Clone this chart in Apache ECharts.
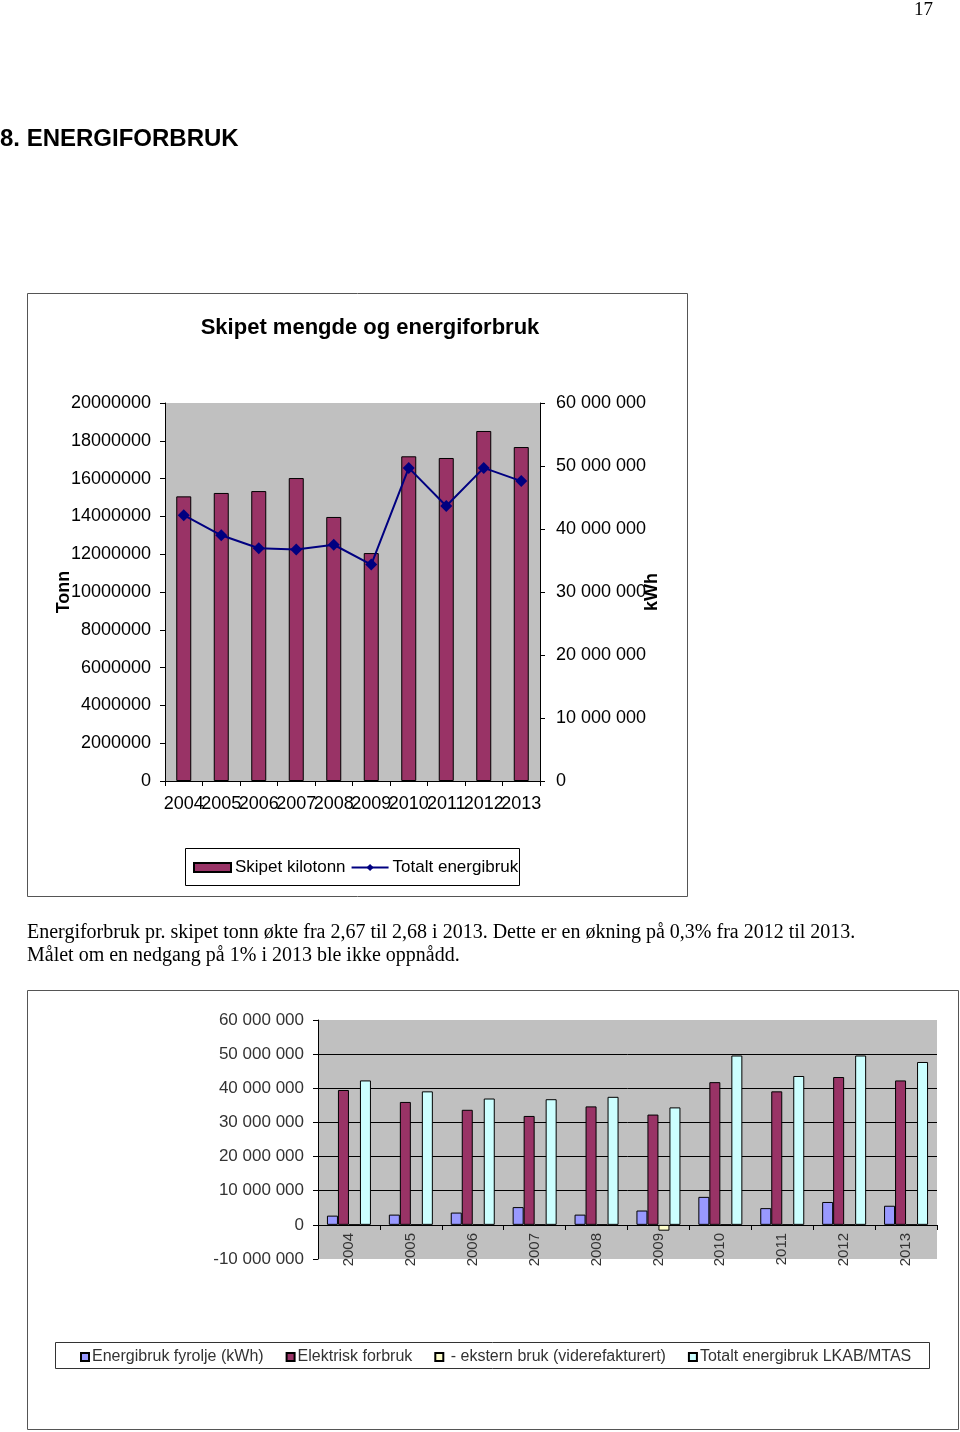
<!DOCTYPE html>
<html>
<head>
<meta charset="utf-8">
<script src="https://cdn.jsdelivr.net/npm/echarts@6/dist/echarts.min.js"></script>
<style>
  html, body { margin:0; padding:0; background:#fff; }
  #page { position:relative; width:960px; height:1432px; overflow:hidden; }
  #chart { position:absolute; left:0; top:0; width:960px; height:1432px; }
  .t { position:absolute; white-space:nowrap; color:#000; }
  #pnum { left:914px; top:-2px; font-family:"Liberation Serif", serif; font-size:19px; }
  #head { left:0; top:124px; font-family:"Liberation Sans", Arial, sans-serif; font-weight:bold; font-size:24px; }
  #para { left:27px; top:920px; font-family:"Liberation Serif", serif; font-size:20px; line-height:23px; }
</style>
</head>
<body>
<div id="page">
  <div id="chart"></div>
  <div class="t" id="pnum">17</div>
  <div class="t" id="head">8. ENERGIFORBRUK</div>
  <div class="t" id="para">Energiforbruk pr. skipet tonn økte fra 2,67 til 2,68 i 2013. Dette er en økning på 0,3% fra 2012 til 2013.<br>Målet om en nedgang på 1% i 2013 ble ikke oppnådd.</div>
</div>
<script>
const years = ['2004','2005','2006','2007','2008','2009','2010','2011','2012','2013'];
// Top chart
const skipetTonn = [15060000, 15240000, 15340000, 16030000, 13970000, 12060000, 17180000, 17090000, 18520000, 17670000];
const totaltEnergi = [42200000, 39000000, 36950000, 36750000, 37500000, 34350000, 49700000, 43650000, 49700000, 47600000];
// Bottom chart
const fyrolje = [2700000, 3000000, 3600000, 5200000, 3000000, 4200000, 8200000, 4900000, 6700000, 5600000];
const elektrisk = [39500000, 36000000, 33700000, 31900000, 34700000, 32300000, 41800000, 39100000, 43300000, 42300000];
const ekstern = [0, 0, 0, 0, 0, -1700000, 0, 0, 0, 0];
const totaltLKAB = [42300000, 39100000, 37000000, 36800000, 37500000, 34400000, 49600000, 43600000, 49600000, 47700000];

const FONT = '"Liberation Sans", Arial, sans-serif';
const spaced = v => String(v).replace(/\B(?=(\d{3})+(?!\d))/g, ' ');
const plain = v => String(v);

const chart = echarts.init(document.getElementById('chart'), null, {renderer:'canvas'});
const axisBlack = {show:true, lineStyle:{color:'#000', width:1}};

chart.setOption({
  animation:false,
  textStyle:{fontFamily:FONT},
  graphic:[
    {type:'rect', shape:{x:27.5, y:293.5, width:660, height:603}, style:{fill:'none', stroke:'#555', lineWidth:1}, z:-1},
    {type:'rect', shape:{x:185.5, y:848.5, width:334, height:37}, style:{fill:'none', stroke:'#000', lineWidth:1}, z:-1},
    {type:'rect', shape:{x:27.5, y:990.5, width:931, height:439}, style:{fill:'none', stroke:'#555', lineWidth:1}, z:-1},
    {type:'rect', shape:{x:55.5, y:1342.5, width:874, height:26}, style:{fill:'none', stroke:'#333', lineWidth:1}, z:-1},
    {type:'text', x:370, y:328, style:{text:'Skipet mengde og energiforbruk', font:'bold 22px ' + FONT, fill:'#000', textAlign:'center', textVerticalAlign:'middle'}}
  ],
  legend:[
    {
      left:193, top:859, padding:0, itemWidth:37, itemHeight:9, itemGap:5,
      textStyle:{fontSize:17, color:'#000', fontFamily:FONT, padding:[0,0,0,-1]},
      data:[{name:'Skipet kilotonn', icon:'rect'}, {name:'Totalt energibruk'}]
    },
    {
      left:80, top:1349, padding:0, itemWidth:8, itemHeight:8, itemGap:22,
      textStyle:{fontSize:16, color:'#333', fontFamily:FONT, padding:[0,0,0,-2]},
      data:[
        {name:'Energibruk fyrolje (kWh)', icon:'rect'},
        {name:'Elektrisk forbruk', icon:'rect'},
        {name:' - ekstern bruk (viderefakturert)', icon:'rect'},
        {name:'Totalt energibruk LKAB/MTAS', icon:'rect'}
      ]
    }
  ],
  grid:[
    {left:165, top:403, width:375, height:378, show:true, backgroundColor:'#c0c0c0', borderWidth:0},
    {left:318, top:1020, width:619, height:239, show:true, backgroundColor:'#c0c0c0', borderWidth:0}
  ],
  xAxis:[
    {
      gridIndex:0, type:'category', data:years,
      axisLine:axisBlack,
      axisTick:{show:true, length:5, alignWithLabel:false, interval:0, lineStyle:{color:'#000'}},
      axisLabel:{fontSize:18, color:'#000', margin:14, interval:0, hideOverlap:false}
    },
    {
      gridIndex:1, type:'category', data:years, offset:-34,
      axisLine:{show:true, onZero:false, lineStyle:{color:'#000', width:1}},
      axisTick:{show:true, length:5, alignWithLabel:false, interval:0, lineStyle:{color:'#000'}},
      axisLabel:{fontSize:15, color:'#333', margin:8, rotate:90, interval:0}
    }
  ],
  yAxis:[
    {
      gridIndex:0, type:'value', position:'left', min:0, max:20000000, interval:2000000,
      axisLine:axisBlack, axisTick:{show:true, length:5, lineStyle:{color:'#000'}},
      splitLine:{show:false},
      axisLabel:{fontSize:18, color:'#000', margin:14, formatter:plain},
      name:'Tonn', nameLocation:'middle', nameGap:92, nameRotate:90, nameMoveOverlap:false,
      nameTextStyle:{fontSize:18, fontWeight:'bold', color:'#000'}
    },
    {
      gridIndex:0, type:'value', position:'right', min:0, max:60000000, interval:10000000,
      axisLine:axisBlack, axisTick:{show:true, length:5, lineStyle:{color:'#000'}},
      splitLine:{show:false},
      axisLabel:{fontSize:18, color:'#000', margin:16, formatter:spaced},
      name:'kWh', nameLocation:'middle', nameGap:103, nameRotate:90, nameMoveOverlap:false,
      nameTextStyle:{fontSize:18, fontWeight:'bold', color:'#000'}
    },
    {
      gridIndex:1, type:'value', min:-10000000, max:60000000, interval:10000000,
      axisLine:axisBlack, axisTick:{show:true, length:5, lineStyle:{color:'#000'}},
      splitLine:{show:true, showMinLine:false, showMaxLine:false, lineStyle:{color:'#000', width:1}},
      axisLabel:{fontSize:17, color:'#333', margin:14, formatter:spaced}
    }
  ],
  series:[
    {
      name:'Skipet kilotonn', type:'bar', xAxisIndex:0, yAxisIndex:0, data:skipetTonn,
      barWidth:15, itemStyle:{color:'#993366', borderColor:'#000', borderWidth:1}
    },
    {
      name:'Totalt energibruk', type:'line', xAxisIndex:0, yAxisIndex:1, data:totaltEnergi,
      symbol:'diamond', symbolSize:12,
      lineStyle:{color:'#000080', width:2}, itemStyle:{color:'#000080'}
    },
    {
      name:'Energibruk fyrolje (kWh)', type:'bar', xAxisIndex:1, yAxisIndex:2, data:fyrolje,
      barWidth:11, barGap:'0%', itemStyle:{color:'#9999ff', borderColor:'#000', borderWidth:1}
    },
    {
      name:'Elektrisk forbruk', type:'bar', xAxisIndex:1, yAxisIndex:2, data:elektrisk,
      barWidth:11, barGap:'0%', itemStyle:{color:'#993366', borderColor:'#000', borderWidth:1}
    },
    {
      name:' - ekstern bruk (viderefakturert)', type:'bar', xAxisIndex:1, yAxisIndex:2, data:ekstern,
      barWidth:11, barGap:'0%', itemStyle:{color:'#ffffcc', borderColor:'#000', borderWidth:1}
    },
    {
      name:'Totalt energibruk LKAB/MTAS', type:'bar', xAxisIndex:1, yAxisIndex:2, data:totaltLKAB,
      barWidth:11, barGap:'0%', itemStyle:{color:'#ccffff', borderColor:'#000', borderWidth:1}
    }
  ]
});
</script>
</body>
</html>
